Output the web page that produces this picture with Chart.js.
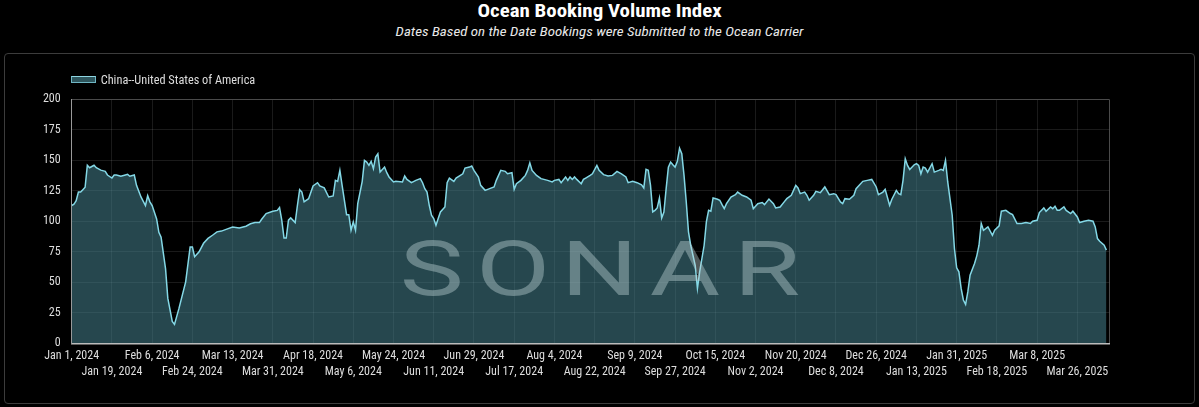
<!DOCTYPE html>
<html><head><meta charset="utf-8">
<script src="https://cdn.jsdelivr.net/npm/chart.js@4.4.1/dist/chart.umd.min.js"></script>
<style>
html,body{margin:0;padding:0;background:#000;width:1199px;height:407px;overflow:hidden;}
body{font-family:"Roboto Condensed","Liberation Sans Narrow",Roboto,sans-serif;}
#title{position:absolute;left:0;width:1199px;top:-1px;text-align:center;color:#fff;font-weight:700;font-size:19px;line-height:24px;transform:scaleX(1.1);transform-origin:599.5px 50%;}
#subtitle{position:absolute;left:0;width:1199px;top:22px;text-align:center;color:#e8e8e8;font-style:italic;font-size:13.6px;line-height:18px;transform:scaleX(1.1);transform-origin:599.5px 50%;}
#box{position:absolute;left:4px;top:53px;width:1189px;height:349px;border:1px solid #3c3c3c;border-radius:4px;}
#chart{position:absolute;left:0;top:0;}
#legend{position:absolute;left:65.7px;top:17.7px;height:16px;display:flex;align-items:center;color:#ddd;font-size:12.3px;}
#swatch{width:23px;height:5px;background:rgba(70,130,142,0.65);border:1px solid #6fb6c4;border-top-color:#8fd6e2;margin-right:5px;}
</style></head>
<body>
<div id="title">Ocean Booking Volume Index</div>
<div id="subtitle">Dates Based on the Date Bookings were Submitted to the Ocean Carrier</div>
<div id="box">
<canvas id="chart" width="1189" height="349"></canvas>
<div id="legend"><div id="swatch"></div><span id="legendText"></span></div>
</div>
<script>
// Series name
const seriesName = "China--United States of America";
// Days since Jan 1, 2024
const dayOffsets = [
0,1,2,3,4,5,6,7,8,9,
10,11,13,15,16,18,19,20,22,24,
25,26,28,29,31,33,34,35,36,38,
39,40,42,43,45,46,48,51,53,54,
55,57,59,61,63,65,67,70,72,75,
78,80,82,84,85,87,90,92,93,94,
95,96,97,98,100,101,102,103,104,106,
108,110,111,113,115,117,118,119,120,121,
123,124,125,126,127,128,130,131,132,133,
134,135,136,137,138,140,141,142,144,145,
148,149,150,152,154,156,157,158,159,160,
161,162,163,164,165,167,168,169,171,172,
175,176,178,179,180,182,183,185,187,189,
190,192,194,195,197,198,199,201,203,204,
205,206,208,210,213,215,216,218,219,221,
222,223,224,225,226,228,229,230,232,233,
235,236,238,240,242,244,246,248,249,251,
253,255,256,257,258,259,260,261,262,263,
264,265,266,267,268,269,270,271,272,273,
274,275,276,277,279,280,281,283,284,285,
286,287,289,290,291,292,293,295,297,298,
300,302,304,305,307,309,310,312,314,315,
317,319,320,322,324,325,326,328,329,330,
332,333,335,337,339,341,342,344,345,346,
348,350,351,354,356,358,360,361,363,364,
366,367,369,370,371,372,373,374,375,377,
378,379,380,381,382,383,385,386,388,389,
390,391,392,394,395,396,397,398,399,400,
401,402,404,405,406,407,408,409,410,412,
413,415,416,418,420,421,423,425,427,429,
430,432,433,435,436,438,439,440,441,442,
444,445,447,448,450,451,453,455,457,458,
459,460,462,463
];
// Ocean Booking Volume Index values
const values = [
113,114,117,124,124,126,128,146,144,145,
146,144,142,141,138,135.5,138,138,137,138,
138.5,137,138,129.5,120,113,121,116,113,102,
91,87,61,37,18,15.5,28.6,50.4,79,79,
71,75,82,86,88.6,91.4,92,94,95.4,94.6,
96,98,99,99,101.7,106.4,108.3,109,111.3,101,
86.4,86.4,101,102.8,99,113,126,124,116,118.6,
129,131.7,129,127.4,120,120.8,133.6,132.8,141.8,129.5,
105.5,105.5,92.7,99.5,92.7,114.5,132.8,150,148.6,145.9,
149.2,143.2,152.7,155.4,140.4,144.5,139.9,136.4,132.3,132.8,
132.3,137.2,134.4,131.7,133.6,135,131.7,126.8,124,113.2,
105,102.3,96.8,102.3,107.7,111.8,131.7,135.5,132.8,135.5,
139,143.7,144.5,145.4,141.8,136.4,129.5,125.4,126.8,128.2,
133.6,141.8,141,139,139.9,126.3,130.9,133.6,137.7,141.8,
148,141.8,137.7,135,133.6,132.3,133.6,134.4,131.7,136.4,
133.6,136.4,134.4,136.4,134.4,130.9,134.4,135.5,137.7,139,
145.9,141.8,138.3,137.2,137.7,141,139,136.4,131.7,132.8,
131.7,130,127.4,142.6,141.8,129.5,107.7,109,111,119.2,
102.8,107.7,126.8,144.5,148.6,146.4,144.5,149.2,160,155.4,
137.7,115.9,91.4,80.4,64,45,58.6,80.4,99.5,109,
108.3,119.2,118.1,117.3,113.7,110.4,114.5,120,121.9,124,
121.4,120,117.3,110.4,114.5,115.4,113.7,118.3,114.5,111,
111.8,116.4,118.6,121.4,129.5,127.4,122.7,124,121.4,117.3,
121.4,124.6,123.5,128.2,121.9,122.7,121.9,115.9,114.5,118.6,
118.1,121.4,126.8,132.8,133.6,134.4,128.2,121.9,124,126.3,
113.2,118.1,125.4,122.7,121.9,133.6,151.4,145.9,142.6,146.4,
147.3,145.9,139,144.5,143.7,140.4,147.3,140.4,141.8,142.6,
141.8,150,132.3,105,77.7,61.9,58.6,45,35.5,31.9,
42.3,55.9,65.4,71.7,80.4,98.2,92.7,94,95.4,88.6,
92.7,96.3,108.3,109,106.4,105.5,98.2,98.2,99,98.2,
100.1,100.9,107.2,111,108.3,111.8,110.4,112.4,109,109,
111.8,109,106.4,108.3,103.6,99,100.1,100.9,100.1,95.4,
85.9,83.7,80.4,76.4
];
// X tick positions (days since Jan 1, 2024) and their labels
const tickDays = [0,18,36,54,72,90,108,126,144,162,180,198,216,234,252,270,288,306,324,342,360,378,396,414,432,450];
const tickLabels = ["Jan 1, 2024","Jan 19, 2024","Feb 6, 2024","Feb 24, 2024","Mar 13, 2024","Mar 31, 2024","Apr 18, 2024","May 6, 2024","May 24, 2024","Jun 11, 2024","Jun 29, 2024","Jul 17, 2024","Aug 4, 2024","Aug 22, 2024","Sep 9, 2024","Sep 27, 2024","Oct 15, 2024","Nov 2, 2024","Nov 20, 2024","Dec 8, 2024","Dec 26, 2024","Jan 13, 2025","Jan 31, 2025","Feb 18, 2025","Mar 8, 2025","Mar 26, 2025"];
const yTicks = [0,25,50,75,100,125,150,175,200];
const xMax = 464.3;

document.getElementById('legendText').textContent = seriesName;

const FONT = '"Roboto Condensed","Liberation Sans Narrow",Roboto,sans-serif';

const watermark = {
  id: 'watermark',
  afterDatasetsDraw(chart) {
    const {ctx, chartArea: a} = chart;
    ctx.save();
    ctx.font = '400 76px Roboto, sans-serif';
    ctx.fillStyle = 'rgba(190,212,215,0.42)';
    ctx.textAlign = 'center';
    ctx.textBaseline = 'alphabetic';
    const cx = (a.left + a.right) / 2 + 7;
    const base = a.top + 195.6;
    const letters = ['S','O','N','A','R'];
    const offs = [-165.8,-84.5,2,87.5,169.5];
    letters.forEach((ch, i) => {
      ctx.save();
      ctx.translate(cx + offs[i], base);
      ctx.scale(1.42, 1);
      ctx.fillText(ch, 0, 0);
      ctx.restore();
    });
    ctx.restore();
  }
};

new Chart(document.getElementById('chart'), {
  type: 'line',
  data: {
    datasets: [{
      label: seriesName,
      data: dayOffsets.map((d, i) => ({x: d, y: values[i]})),
      borderColor: '#84d8e6',
      borderWidth: 1.5,
      backgroundColor: 'rgba(70,130,142,0.55)',
      fill: 'origin',
      pointRadius: 0,
      tension: 0
    }]
  },
  options: {
    responsive: false,
    animation: false,
    layout: {padding: {left: 0, right: 84.7, top: 45.4, bottom: 0}},
    plugins: {legend: {display: false}, tooltip: {enabled: false}},
    scales: {
      x: {
        type: 'linear', min: 0, max: xMax,
        afterBuildTicks: s => { s.ticks = tickDays.map(v => ({value: v})).concat([{value: xMax}]); },
        afterFit: s => { s.height = 59.7; },
        grid: {color: c => (c.tick && c.tick.value === xMax) ? '#4a4a4a' : 'rgba(255,255,255,0.1)', drawTicks: false},
        border: {color: '#bdbdbd', width: 1.5},
        ticks: {
          color: '#dedede', padding: 5, maxRotation: 0, minRotation: 0, autoSkip: false,
          font: {size: 12, family: FONT, lineHeight: 1.34},
          callback: (v, i) => {
            const k = tickDays.indexOf(v);
            if (k < 0) return '';
            return k % 2 === 0 ? [tickLabels[k], ''] : ['', tickLabels[k]];
          }
        }
      },
      y: {
        min: 0, max: 200,
        afterBuildTicks: s => { s.ticks = yTicks.map(v => ({value: v})); },
        afterFit: s => { s.width = 66.7; },
        grid: {color: c => (c.tick && c.tick.value === 200) ? '#4a4a4a' : 'rgba(255,255,255,0.1)', drawTicks: false},
        border: {color: '#9a9a9a', width: 1},
        ticks: {color: '#dedede', padding: 11, font: {size: 12, family: FONT}}
      }
    }
  },
  plugins: [watermark]
});
</script>
</body></html>
